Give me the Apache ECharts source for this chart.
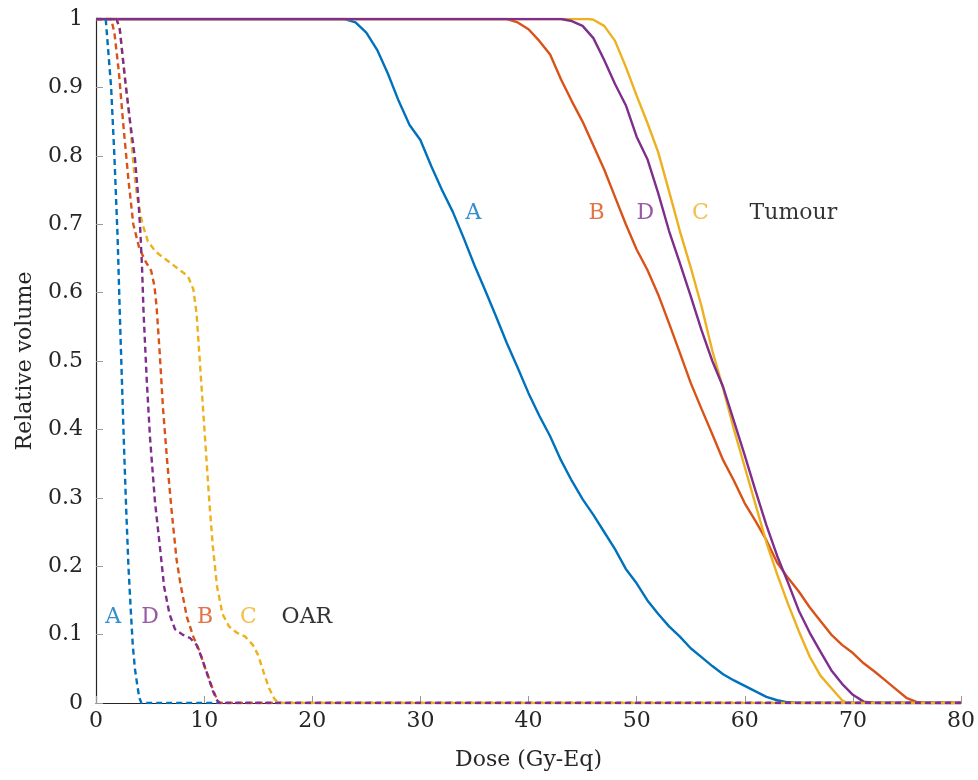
<!DOCTYPE html>
<html><head><meta charset="utf-8">
<script src="https://cdn.jsdelivr.net/npm/echarts@6/dist/echarts.min.js"></script>
<style>html,body{margin:0;padding:0;background:#fff}#c{width:978px;height:780px}</style>
</head><body><div id="c"></div>
<script>
// Dose (Gy-Eq), Relative volume
const tumourA = [[0,1],[23,1],[24,0.995],[25,0.98],[26,0.955],[27,0.92],[28,0.88],[29,0.845],[30,0.823],[31,0.785],[32,0.75],[33,0.718],[34,0.68],[35,0.64],[36,0.603],[37,0.565],[38,0.526],[39,0.49],[40,0.453],[41,0.42],[42,0.39],[43,0.355],[44,0.325],[45,0.298],[46,0.275],[47,0.25],[48,0.225],[49,0.196],[50,0.175],[51,0.15],[52,0.13],[53,0.112],[54,0.097],[55,0.08],[56,0.067],[57,0.054],[58,0.042],[59,0.033],[60,0.025],[61,0.017],[62,0.009],[63,0.004],[64,0.001],[65,0],[80,0]];
const tumourB = [[0,1],[38,1],[39,0.995],[40,0.985],[41,0.968],[42,0.948],[43,0.912],[44,0.88],[45,0.85],[46,0.815],[47,0.78],[48,0.74],[49,0.70],[50,0.663],[51,0.633],[52,0.597],[53,0.555],[54,0.512],[55,0.468],[56,0.43],[57,0.393],[58,0.355],[59,0.325],[60,0.292],[61,0.266],[62,0.238],[63,0.205],[64,0.183],[65,0.163],[66,0.14],[67,0.12],[68,0.1],[69,0.085],[70,0.073],[71,0.058],[72,0.046],[73,0.033],[74,0.02],[75,0.007],[76,0.001],[77,0],[80,0]];
const tumourC = [[0,1],[45.5,1],[46,0.999],[47,0.99],[48,0.968],[49,0.93],[50,0.888],[51,0.848],[52,0.805],[53,0.748],[54,0.69],[55,0.637],[56,0.58],[57,0.515],[58,0.46],[59,0.4],[60,0.345],[61,0.29],[62,0.235],[63,0.188],[64,0.145],[65,0.105],[66,0.068],[67,0.04],[68,0.022],[69,0.004],[69.5,0],[80,0]];
const tumourD = [[0,1],[43,1],[44,0.997],[45,0.99],[46,0.972],[47,0.94],[48,0.905],[49,0.874],[50,0.828],[51,0.795],[52,0.745],[53,0.69],[54,0.643],[55,0.595],[56,0.545],[57,0.5],[58,0.462],[59,0.412],[60,0.362],[61,0.31],[62,0.26],[63,0.215],[64,0.176],[65,0.135],[66,0.103],[67,0.075],[68,0.048],[69,0.028],[70,0.012],[71,0.002],[72,0],[80,0]];

const oarA = [[0,1],[0.9,1],[1.1,0.96],[1.4,0.9],[1.7,0.8],[2.0,0.68],[2.2,0.57],[2.4,0.47],[2.6,0.37],[2.8,0.28],[3.0,0.2],[3.2,0.14],[3.4,0.085],[3.6,0.05],[3.8,0.028],[4.0,0.008],[4.2,0],[80,0]];
const oarB = [[0,1],[1.4,1],[1.7,0.98],[2.1,0.925],[2.5,0.85],[3.0,0.765],[3.45,0.70],[4.0,0.665],[4.6,0.645],[5.1,0.632],[5.4,0.61],[5.6,0.58],[5.9,0.51],[6.2,0.43],[6.6,0.35],[7.0,0.28],[7.45,0.21],[7.8,0.175],[8.4,0.126],[9.0,0.097],[9.6,0.075],[10.0,0.055],[10.4,0.038],[10.8,0.02],[11.2,0.005],[11.4,0],[80,0]];
const oarC = [[0,1],[1.9,1],[2.2,0.985],[2.7,0.91],[3.15,0.85],[3.5,0.78],[3.8,0.74],[4.3,0.70],[4.8,0.675],[5.5,0.66],[6.5,0.648],[7.5,0.636],[8.5,0.624],[9.0,0.605],[9.3,0.57],[9.6,0.5],[9.9,0.43],[10.2,0.36],[10.5,0.29],[10.8,0.23],[11.2,0.17],[11.7,0.13],[12.3,0.112],[13.0,0.103],[13.8,0.097],[14.5,0.085],[15.0,0.07],[15.5,0.045],[16.0,0.022],[16.5,0.006],[16.9,0],[80,0]];
const oarD = [[0,1],[1.9,1],[2.2,0.985],[2.7,0.91],[3.15,0.85],[3.6,0.797],[3.9,0.74],[4.1,0.69],[4.25,0.64],[4.4,0.57],[4.7,0.47],[5.0,0.387],[5.45,0.295],[5.9,0.23],[6.3,0.17],[6.8,0.13],[7.3,0.108],[8.0,0.1],[8.7,0.095],[9.3,0.085],[9.8,0.065],[10.3,0.042],[10.8,0.018],[11.2,0.004],[11.4,0],[80,0]];

// annotation labels [x, y, text, colourKey]
const tumourLabels = [[34.9,0.716,'A','A'],[46.3,0.716,'B','B'],[50.8,0.716,'D','D'],[55.9,0.716,'C','C'],[64.5,0.716,'Tumour','K']];
const oarLabels = [[1.6,0.126,'A','A'],[5.0,0.126,'D','D'],[10.1,0.126,'B','B'],[14.1,0.126,'C','C'],[19.5,0.126,'OAR','K']];

const colours = {A:'#0072BD', B:'#D95319', C:'#EDB120', D:'#7E2F8E', K:'#000000'};
const font = '"DejaVu Serif", "Liberation Serif", serif';
const fs = 22;

function lineSeries(name, data, col, dashed){
  return {name, type:'line', data, showSymbol:false, symbol:'none', animation:false,
    lineStyle:{color:col, width:2.4, type: dashed ? [6,4] : 'solid'}, z: dashed ? 3 : 2};
}
function labelSeries(arr){
  return {type:'scatter', symbolSize:0, animation:false, silent:true, z:5,
    data: arr.map(d => ({value:[d[0], d[1]], name:d[2],
      label:{show:true, position:'inside', formatter:d[2], color:colours[d[3]],
        fontFamily:font, fontSize:fs}}))};
}

const chart = echarts.init(document.getElementById('c'), null, {renderer:'canvas'});
chart.setOption({
  animation:false,
  grid:{left:96, right:17, top:19, bottom:77, containLabel:false},
  xAxis:{type:'value', min:0, max:80, interval:10,
    name:'Dose (Gy-Eq)', nameLocation:'middle', nameGap:46,
    nameTextStyle:{fontFamily:font, fontSize:fs, color:'#262626'},
    axisLine:{show:true, lineStyle:{color:'#262626', width:1.2}},
    axisTick:{show:true, inside:true, length:7, lineStyle:{color:'#999'}},
    axisLabel:{fontFamily:font, fontSize:fs, color:'#262626', margin:7},
    splitLine:{show:false}},
  yAxis:{type:'value', min:0, max:1, interval:0.1,
    name:'Relative volume', nameLocation:'middle', nameGap:60, nameRotate:90,
    nameTextStyle:{fontFamily:font, fontSize:fs, color:'#262626'},
    axisLine:{show:true, lineStyle:{color:'#262626', width:1.2}},
    axisTick:{show:true, inside:true, length:7, lineStyle:{color:'#999'}},
    axisLabel:{fontFamily:font, fontSize:fs, color:'#262626', margin:13,
      formatter: v => String(Math.round(v*10)/10)},
    splitLine:{show:false}},
  series:[
    lineSeries('OAR A', oarA, colours.A, true),
    lineSeries('OAR B', oarB, colours.B, true),
    lineSeries('OAR C', oarC, colours.C, true),
    lineSeries('OAR D', oarD, colours.D, true),
    lineSeries('Tumour A', tumourA, colours.A, false),
    lineSeries('Tumour B', tumourB, colours.B, false),
    lineSeries('Tumour C', tumourC, colours.C, false),
    lineSeries('Tumour D', tumourD, colours.D, false),
    labelSeries(tumourLabels),
    labelSeries(oarLabels)
  ]
});
</script></body></html>
